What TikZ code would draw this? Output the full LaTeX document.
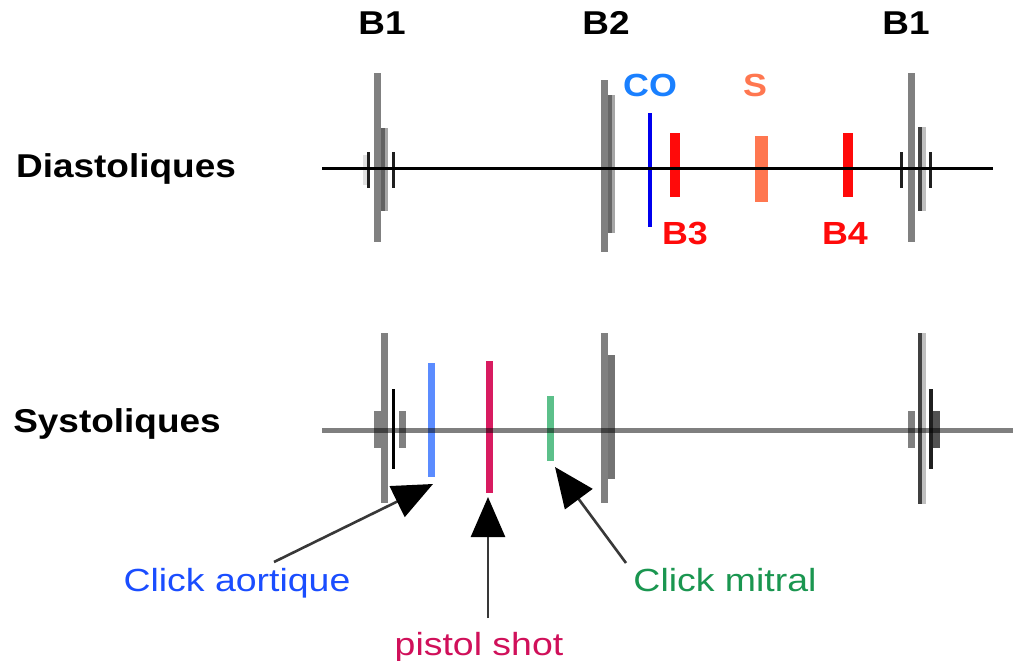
\documentclass[tikz,border=0pt]{standalone}
\usepackage{fontspec}
\setmainfont{Liberation Sans}
\newfontfamily\headfont[FakeStretch=1.12]{Liberation Sans}
\newfontfamily\labfont[FakeStretch=1.17]{Liberation Sans}
\usetikzlibrary{arrows.meta}
\definecolor{coblue}{HTML}{0000EE}
\definecolor{cotext}{HTML}{1A80FF}
\definecolor{sorange}{HTML}{FF7750}
\definecolor{bred}{HTML}{FF0A0A}
\definecolor{aoline}{HTML}{5B8CFF}
\definecolor{aotext}{HTML}{1A4DFF}
\definecolor{pistol}{HTML}{D81B60}
\definecolor{pistext}{HTML}{D0105A}
\definecolor{mitline}{HTML}{5CC08A}
\definecolor{mittext}{HTML}{1A9650}
\tikzset{
  head/.style={inner sep=0pt, anchor=base, font=\headfont\bfseries\fontsize{33}{38}\selectfont},
  tag/.style={inner sep=0pt, anchor=base, font=\headfont\bfseries\fontsize{32}{38}\selectfont},
  lab/.style={inner sep=0pt, anchor=base, font=\labfont\fontsize{32}{38}\selectfont},
  pointer/.style={draw=black!78, line width=2.6pt,
    -{Triangle[length=40pt,width=34pt,color=black]}},
}
\begin{document}
\begin{tikzpicture}[x=1pt,y=-1pt]
\useasboundingbox[fill=white] (0,0) rectangle (1013,661);

% ---------- diastolic row ----------
% B1 (left)
\fill[black!50] (374,73) rectangle (381,242);
\fill[black!62] (381,128) rectangle (385,211);
\fill[black!35] (385,128) rectangle (388,211);
\fill[black!12] (363,155) rectangle (367,185);
\fill[black!88] (367,152) rectangle (370,188);
\fill[black!88] (392,152) rectangle (395,188);
% B2
\fill[black!50] (601,80) rectangle (608,252);
\fill[black!60] (608,95) rectangle (612,233);
\fill[black!35] (612,95) rectangle (615,233);
% opening snap, B3, murmur, B4
\fill[coblue] (648,113) rectangle (652,227);
\fill[bred] (670,133) rectangle (680,197);
\fill[sorange] (755,136) rectangle (768,202);
\fill[bred] (843,133) rectangle (853,197);
% B1 (right)
\fill[black!50] (908,73) rectangle (915,242);
\fill[black!75] (918,127) rectangle (922,211);
\fill[black!25] (922,127) rectangle (926,211);
\fill[black!88] (900,152) rectangle (903,188);
\fill[black!88] (929,152) rectangle (932,188);
% time axis
\draw[line width=3pt] (322,168) -- (993,168);

% ---------- systolic row ----------
% B1 (left)
\fill[black!50] (381,333) rectangle (388,503);
\fill[black!50] (374,411) rectangle (381,448);
\fill[black!50] (399,411) rectangle (406,448);
\fill[black] (392,389) rectangle (395,469);
% ejection clicks and pistol shot
\fill[aoline] (428,363) rectangle (435,477);
\fill[pistol] (486,361) rectangle (493,493);
\fill[mitline] (547,396) rectangle (554,461);
% B2
\fill[black!50] (601,333) rectangle (608,503);
\fill[black!55] (608,355) rectangle (615,479);
% B1 (right)
\fill[black!75] (918,333) rectangle (922,504);
\fill[black!25] (922,333) rectangle (926,504);
\fill[black!50] (908,411) rectangle (915,448);
\fill[black!88] (929,389) rectangle (933,469);
\fill[black!68] (933,411) rectangle (940,448);
% time axis
\draw[line width=5pt, black, opacity=0.5] (322,430) -- (1013,430);

% ---------- labels ----------
\node[head] (b1a) at (382,35) {B1};
\node[head] (b2) at (606,35) {B2};
\node[head] (b1b) at (906,35) {B1};
\node[head] (dia) at (126,177) {Diastoliques};
\node[head] (sys) at (117,432) {Systoliques};
\node[tag, text=cotext] (co) at (650,96) {CO};
\node[tag, text=sorange] (s) at (755,96) {S};
\node[tag, text=bred] (b3) at (685,244) {B3};
\node[tag, text=bred] (b4) at (845,244) {B4};
\node[lab, text=aotext] (ao) at (237,591) {Click aortique};
\node[lab, text=pistext] (ps) at (479,655) {pistol shot};
\node[lab, text=mittext] (mi) at (725,591) {Click mitral};

% ---------- pointers ----------
\coordinate (aotail) at (274,562);
\coordinate (aotip) at (433,484);
\coordinate (pstail) at (488,618);
\coordinate (pstip) at (488,497);
\coordinate (mitail) at (626,563);
\coordinate (mitip) at (555,467);
\draw[pointer] (aotail) -- (aotip);
\draw[pointer] (pstail) -- (pstip);
\draw[pointer] (mitail) -- (mitip);
\end{tikzpicture}
\end{document}
